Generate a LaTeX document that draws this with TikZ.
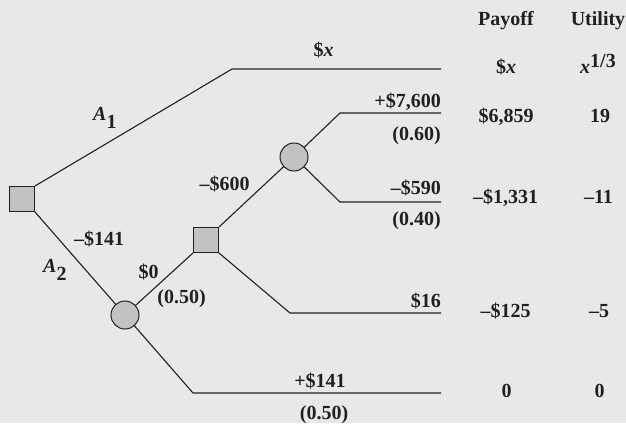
\documentclass[tikz,border=0pt]{standalone}
\usepackage{fontspec}
\setmainfont{Liberation Serif}
\usepackage{xcolor}
\usepackage{tikz}
\definecolor{DTBack}{HTML}{E7E8EA}
\definecolor{DTFill}{HTML}{C1C2C4}
\definecolor{DTLine}{HTML}{231F20}

\begin{document}
\begin{tikzpicture}[x=1pt,y=-1pt,
  every node/.style={font=\fontsize{20}{24}\selectfont\bfseries,text=DTLine,inner sep=0pt},
  decision/.style={rectangle,draw=DTLine,fill=DTFill,line width=1pt,minimum size=25pt},
  chance/.style={circle,draw=DTLine,fill=DTFill,line width=1pt,minimum size=28pt},
  branch/.style={draw=DTLine,line width=1.1pt}]
\fill[DTBack] (0,0) rectangle (626,423);
\path[use as bounding box] (0,0) rectangle (626,423);
% decision and chance nodes
\node[decision] (d1) at (22,199) {};
\node[decision] (d2) at (206,240) {};
\node[chance] (c1) at (125,315) {};
\node[chance] (c2) at (294,157) {};
% bends and ends of the branches
\coordinate (k1) at (232,69);  \coordinate (e1) at (441,69);
\coordinate (k2) at (340,113); \coordinate (e2) at (441,113);
\coordinate (k3) at (340,202); \coordinate (e3) at (441,202);
\coordinate (k4) at (290,313); \coordinate (e4) at (441,313);
\coordinate (k5) at (193,393); \coordinate (e5) at (441,393);
% branches
\draw[branch] (d1.north east) -- (k1) -- (e1);
\draw[branch] (d1.south east) -- (c1);
\draw[branch] (c1) -- (d2.south west);
\draw[branch] (d2.north east) -- (c2);
\draw[branch] (c2) -- (k2) -- (e2);
\draw[branch] (c2) -- (k3) -- (e3);
\draw[branch] (d2.south east) -- (k4) -- (e4);
\draw[branch] (c1) -- (k5) -- (e5);
% branch labels
\node[anchor=base west] (la1) at (93,120) {\textit{A}\raisebox{-8pt}{1}};
\node[anchor=base west] (la2) at (43,272) {\textit{A}\raisebox{-8pt}{2}};
\node[anchor=base] (lx) at (323.5,56) {\$\textit{x}};
\node[anchor=base] (lcost) at (99,245) {--\$141};
\node[anchor=base] (ltest) at (224.5,190) {--\$600};
\node[anchor=base] (lzero) at (148.5,278) {\$0};
\node[anchor=base] (lpzero) at (181.5,303) {(0.50)};
\node[anchor=base east] (lhigh) at (441,107) {+\$7,600};
\node[anchor=base east] (lphigh) at (441,140) {(0.60)};
\node[anchor=base east] (llow) at (441,194) {--\$590};
\node[anchor=base east] (lplow) at (441,225) {(0.40)};
\node[anchor=base east] (lstop) at (441,307) {\$16};
\node[anchor=base] (lwin) at (320,387) {+\$141};
\node[anchor=base] (lpwin) at (324,419) {(0.50)};
% payoff and utility columns
\node[anchor=base] (hpay) at (506,25) {Payoff};
\node[anchor=base] (hutil) at (598,25) {Utility};
\node[anchor=base] (pay0) at (506,73) {\$\textit{x}};
\node[anchor=base] (util0) at (598,73) {\textit{x}\raisebox{6pt}{1/3}};
\node[anchor=base] (pay1) at (506,122) {\$6,859};
\node[anchor=base] (util1) at (600,122) {19};
\node[anchor=base] (pay2) at (505.5,203) {--\$1,331};
\node[anchor=base] (util2) at (598.5,203) {--11};
\node[anchor=base] (pay3) at (505.5,317) {--\$125};
\node[anchor=base] (util3) at (599,317) {--5};
\node[anchor=base] (pay4) at (506.5,397) {0};
\node[anchor=base] (util4) at (599.5,397) {0};
\end{tikzpicture}
\end{document}
